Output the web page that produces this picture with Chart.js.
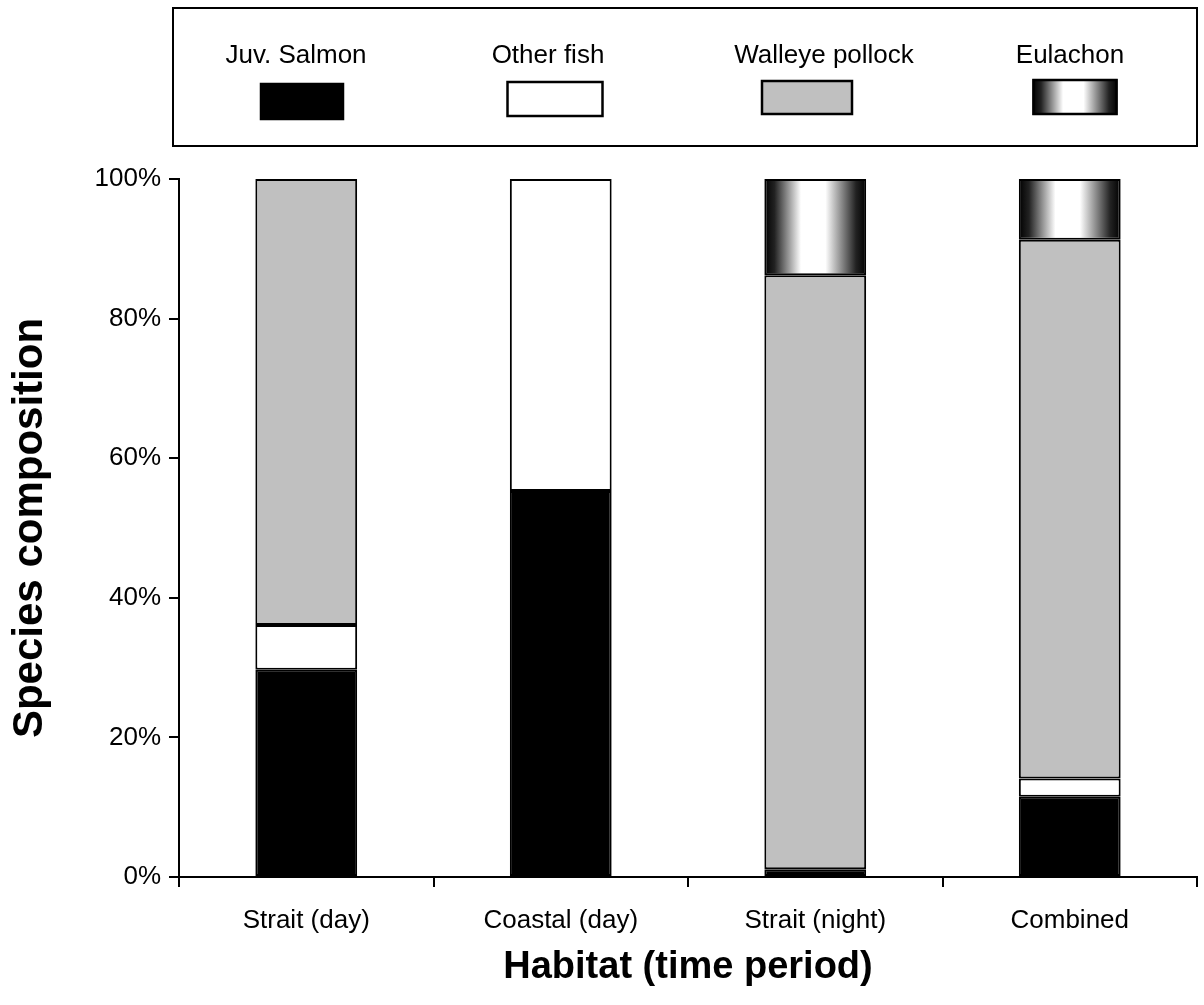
<!DOCTYPE html>
<html>
<head>
<meta charset="utf-8">
<script src="https://cdn.jsdelivr.net/npm/chart.js@4/dist/chart.umd.min.js"></script>
<style>
  html, body { margin: 0; padding: 0; background: #ffffff; }
  #wrap { width: 1204px; height: 1005px; }
</style>
</head>
<body>
<div id="wrap"><canvas id="fishChart" width="1204" height="1005"></canvas></div>
<script>
const categories = ['Strait (day)', 'Coastal (day)', 'Strait (night)', 'Combined'];
const seriesNames = ['Juv. Salmon', 'Other fish', 'Walleye pollock', 'Eulachon'];
const juvSalmon = [29.7, 55.3, 1.1, 11.5];
const otherFish = [6.4, 44.7, null, 2.6];
const walleyePollock = [63.9, null, 85.1, 77.2];
const eulachon = [null, null, 13.8, 8.7];
const yTicks = [0, 20, 40, 60, 80, 100];

const BAR_PCT = 0.4;
const FONT = '"Liberation Sans", Arial, Helvetica, sans-serif';

// legend placement (pixels), one entry per series
const legendTextX = [296, 548, 824, 1070];
const legendSwatch = [
    { cx: 302, w: 84, y: 83, h: 37 },
    { cx: 555, w: 97, y: 81, h: 36 },
    { cx: 807, w: 92, y: 80, h: 35 },
    { cx: 1075, w: 85, y: 79, h: 36 }
];

function fadeGradient(ctx, x0, x1) {
    const g = ctx.createLinearGradient(x0, 0, x1, 0);
    g.addColorStop(0, '#000000');
    g.addColorStop(0.1, '#222222');
    g.addColorStop(0.36, '#ffffff');
    g.addColorStop(0.6, '#ffffff');
    g.addColorStop(0.9, '#222222');
    g.addColorStop(1, '#000000');
    return g;
}

function eulachonFill(c) {
    if (c.type !== 'data') return '#808080';
    const chart = c.chart;
    const xs = chart.scales.x;
    if (!xs || !chart.chartArea) return '#808080';
    const cx = xs.getPixelForValue(c.dataIndex);
    const half = (xs.width / categories.length) * BAR_PCT / 2;
    return fadeGradient(chart.ctx, cx - half, cx + half);
}

// legend box drawn above the plot, text above each swatch
const boxLegend = {
    id: 'boxLegend',
    afterDraw(chart) {
        const ctx = chart.ctx;
        const left = 173, right = 1197, top = 8, bottom = 146;
        ctx.save();
        ctx.lineWidth = 2;
        ctx.strokeStyle = '#000000';
        ctx.strokeRect(left, top, right - left, bottom - top);
        ctx.font = '26px ' + FONT;
        ctx.textAlign = 'center';
        ctx.textBaseline = 'middle';
        chart.data.datasets.forEach(function(ds, i) {
            ctx.fillStyle = '#000000';
            ctx.fillText(ds.label, legendTextX[i], 56);
            const s = legendSwatch[i];
            const x = s.cx - s.w / 2;
            ctx.fillStyle = i === 3 ? fadeGradient(ctx, x, x + s.w) : ds.legendColor;
            ctx.fillRect(x, s.y, s.w, s.h);
            ctx.lineWidth = 2.5;
            ctx.strokeRect(x + 1, s.y + 1, s.w - 2, s.h - 2);
        });
        ctx.restore();
    }
};

const data = {
    labels: categories,
    datasets: [
        { label: seriesNames[0], data: juvSalmon, backgroundColor: '#000000', legendColor: '#000000' },
        { label: seriesNames[1], data: otherFish, backgroundColor: '#ffffff', legendColor: '#ffffff' },
        { label: seriesNames[2], data: walleyePollock, backgroundColor: '#c0c0c0', legendColor: '#c0c0c0' },
        { label: seriesNames[3], data: eulachon, backgroundColor: eulachonFill, legendColor: '#808080' }
    ].map(function(ds) {
        ds.borderColor = '#000000';
        ds.borderWidth = 2;
        ds.borderSkipped = false;
        ds.categoryPercentage = 1;
        ds.barPercentage = BAR_PCT;
        return ds;
    })
};

const config = {
    type: 'bar',
    data: data,
    options: {
        responsive: false,
        animation: false,
        layout: { padding: { top: 179, right: 7, left: 0, bottom: 0 } },
        scales: {
            x: {
                stacked: true,
                afterFit: function(s) { s.height = 128; },
                grid: {
                    offset: true,
                    drawOnChartArea: false,
                    color: '#000000',
                    lineWidth: 2,
                    tickLength: 10
                },
                border: { color: '#000000', width: 2 },
                ticks: {
                    color: '#000000',
                    padding: 18,
                    font: { family: FONT, size: 26 }
                },
                title: {
                    display: true,
                    text: 'Habitat (time period)',
                    color: '#000000',
                    padding: { top: 0, bottom: 15 },
                    font: { family: FONT, size: 38, weight: 'bold' }
                }
            },
            y: {
                stacked: true,
                min: 0,
                max: 100,
                afterFit: function(s) { s.width = 179; },
                afterBuildTicks: function(s) {
                    s.ticks = yTicks.map(function(v) { return { value: v }; });
                },
                grid: {
                    drawOnChartArea: false,
                    color: '#000000',
                    lineWidth: 2,
                    tickLength: 10
                },
                border: { color: '#000000', width: 2 },
                ticks: {
                    color: '#000000',
                    padding: 8,
                    font: { family: FONT, size: 26 },
                    callback: function(value) { return value + '%'; }
                },
                title: {
                    display: true,
                    text: 'Species composition',
                    color: '#000000',
                    padding: { top: 5, bottom: 0 },
                    font: { family: FONT, size: 42, weight: 'bold' }
                }
            }
        },
        plugins: {
            legend: { display: false },
            tooltip: { enabled: false }
        }
    },
    plugins: [boxLegend]
};

new Chart(document.getElementById('fishChart').getContext('2d'), config);
</script>
</body>
</html>
